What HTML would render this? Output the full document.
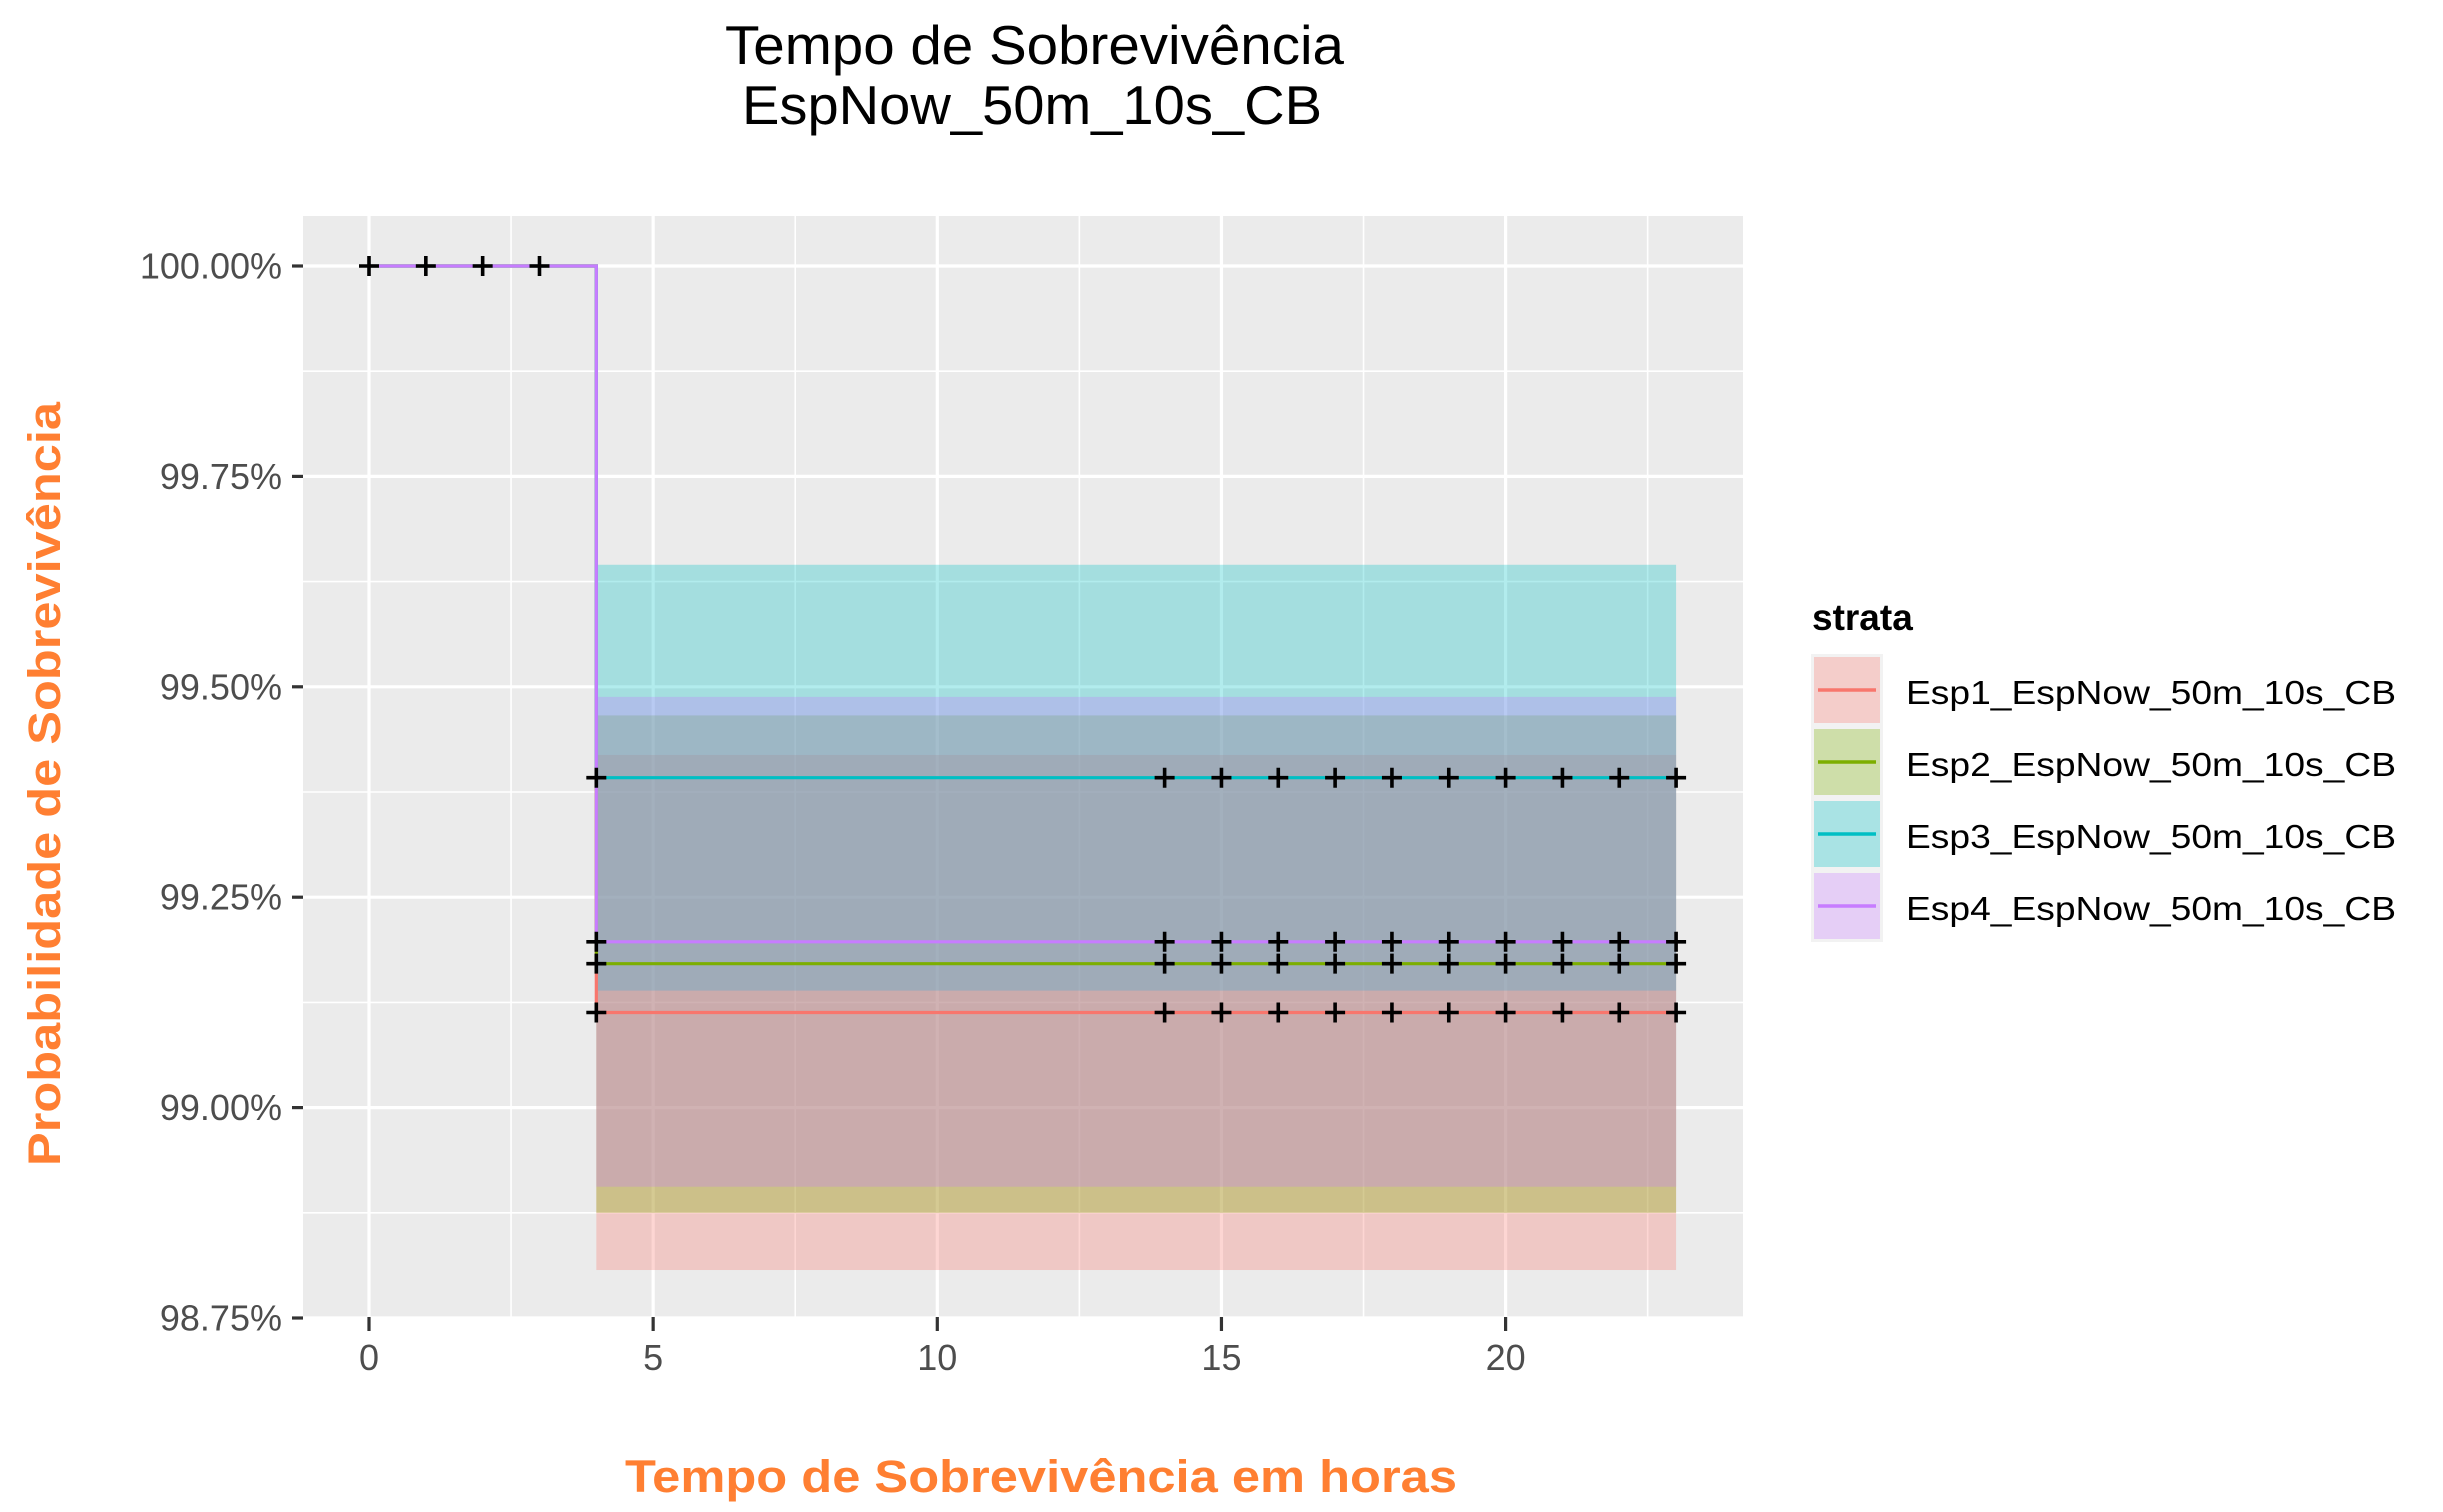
<!DOCTYPE html>
<html><head><meta charset="utf-8"><style>
html,body{margin:0;padding:0;background:#fff;}
svg{display:block;font-family:"Liberation Sans",Arial,sans-serif;}
</style></head><body>
<svg id="chart" width="2443" height="1512" viewBox="0 0 2443 1512" xmlns="http://www.w3.org/2000/svg">
<text x="725" y="64" font-size="55" fill="#000" textLength="619" lengthAdjust="spacingAndGlyphs">Tempo de Sobrevivência</text>
<text x="742" y="124" font-size="55" fill="#000" textLength="580" lengthAdjust="spacingAndGlyphs">EspNow_50m_10s_CB</text>
<g id="panel"></g>
<text x="625" y="1492" font-size="45" font-weight="bold" fill="#FF7F32" textLength="832" lengthAdjust="spacingAndGlyphs">Tempo de Sobrevivência em horas</text>
<text transform="translate(60,1166) rotate(-90)" font-size="45" font-weight="bold" fill="#FF7F32" textLength="764" lengthAdjust="spacingAndGlyphs">Probabilidade de Sobrevivência</text>
<g id="legend">
<text x="1812" y="630" font-size="37" font-weight="bold" fill="#000">strata</text>
</g>
</svg>
<script>
const strata = ["Esp1_EspNow_50m_10s_CB","Esp2_EspNow_50m_10s_CB","Esp3_EspNow_50m_10s_CB","Esp4_EspNow_50m_10s_CB"];
const colors = ["#F8766D","#7CAE00","#00BFC4","#C77CFF"];
const survAfter = [99.113, 99.171, 99.392, 99.197];
const upperCI = [99.419, 99.466, 99.645, 99.488];
const lowerCI = [98.807, 98.875, 99.139, 98.906];
const dropTime = 4;
const endTime = 23;
const censorEarly = [0, 1, 2, 3];
const censorLate = [4, 14, 15, 16, 17, 18, 19, 20, 21, 22, 23];
const xTicks = [0, 5, 10, 15, 20];
const yTicks = [98.75, 99.00, 99.25, 99.50, 99.75, 100.00];
const yTickLabels = ["98.75%","99.00%","99.25%","99.50%","99.75%","100.00%"];

const NS = "http://www.w3.org/2000/svg";
const P = {l:303, r:1743, t:216, b:1317};
const xs = v => 369 + v * 56.83;
const ys = v => 266 + (100 - v) * 841.6;
function mk(tag, attrs, parent){const e=document.createElementNS(NS,tag);for(const k in attrs)e.setAttribute(k,attrs[k]);parent.appendChild(e);return e;}
const panel = document.getElementById('panel');
const svg = document.getElementById('chart');

const bg = mk('rect',{x:P.l,y:P.t,width:P.r-P.l,height:P.b-P.t,fill:'#EBEBEB'},panel);



for (let i=0;i<xTicks.length;i++){
  const v = xTicks[i]+2.5; const x=xs(v);
  if (x>P.l && x<P.r){const g=mk('line',{x1:x,x2:x,y1:P.t,y2:P.b,stroke:'#fff','stroke-width':1.6},panel);
  
  }
}
for (let i=0;i<yTicks.length-1;i++){
  const v=(yTicks[i]+yTicks[i+1])/2; const y=ys(v);
  const g=mk('line',{x1:P.l,x2:P.r,y1:y,y2:y,stroke:'#fff','stroke-width':1.6},panel);
  
  
}
xTicks.forEach(v=>{
  const x=xs(v);
  const g=mk('line',{x1:x,x2:x,y1:P.t,y2:P.b,stroke:'#fff','stroke-width':3.2},panel);
  
  
  const t=mk('line',{x1:x,x2:x,y1:P.b,y2:P.b+14,stroke:'#333','stroke-width':3.2},svg);
  
  
  const lb=mk('text',{x:x,y:1370,'font-size':36,'text-anchor':'middle',fill:'#4D4D4D'},svg);
  lb.textContent=String(v);
  
  
});
yTicks.forEach((v,i)=>{
  const y=ys(v);
  const g=mk('line',{x1:P.l,x2:P.r,y1:y,y2:y,stroke:'#fff','stroke-width':3.2},panel);
  
  
  const t=mk('line',{x1:P.l-11,x2:P.l,y1:y,y2:y,stroke:'#333','stroke-width':3.2},svg);
  
  
  const lb=mk('text',{x:282,y:y+12.5,'font-size':36,'text-anchor':'end',fill:'#4D4D4D'},svg);
  lb.textContent=yTickLabels[i];
  
  
});
strata.forEach((s,i)=>{
  const r=mk('rect',{x:xs(dropTime),y:ys(upperCI[i]),width:xs(endTime)-xs(dropTime),height:ys(lowerCI[i])-ys(upperCI[i]),fill:colors[i],'fill-opacity':0.3},panel);
  
  
});
strata.forEach((s,i)=>{
  const d=`M${xs(0)},${ys(100)} H${xs(dropTime)} V${ys(survAfter[i])} H${xs(endTime)}`;
  const p=mk('path',{d:d,fill:'none',stroke:colors[i],'stroke-width':3.2},panel);
  
  
});
function plus(x,y,name){
  const d=`M${x-10},${y} H${x+10} M${x},${y-10} V${y+10}`;
  const p=mk('path',{d:d,stroke:'#000','stroke-width':3.6,fill:'none'},panel);
  
  
}
censorEarly.forEach(t=>plus(xs(t),ys(100),'censor-mark'));
strata.forEach((s,i)=>censorLate.forEach(t=>plus(xs(t),ys(survAfter[i]),'censor-mark-'+(i+1))));

const legend=document.getElementById('legend');
strata.forEach((s,i)=>{
  const top=654+i*72;
  const kb=mk('rect',{x:1811,y:top,width:72,height:72,fill:'#F2F2F2'},legend);
  
  
  const kf=mk('rect',{x:1814,y:top+3,width:66,height:66,fill:colors[i],'fill-opacity':0.3},legend);
  
  
  const kl=mk('line',{x1:1818,x2:1876,y1:top+36,y2:top+36,stroke:colors[i],'stroke-width':3.5},legend);
  
  
  const lt=mk('text',{x:1906,y:top+50,'font-size':33.5,fill:'#000',textLength:490,lengthAdjust:'spacingAndGlyphs'},legend);
  lt.textContent=s;
  
  
});
</script>
</body></html>
